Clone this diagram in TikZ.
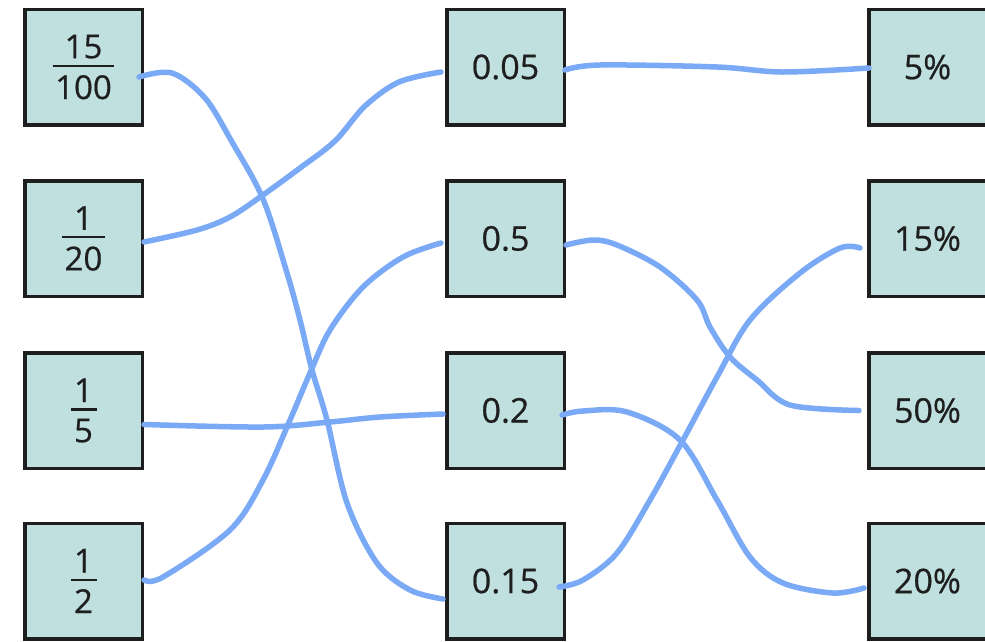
\documentclass[tikz,border=0pt]{standalone}
\usepackage{fontspec}
\setmainfont{Open Sans}[FakeBold=0.6]
\definecolor{boxfill}{HTML}{BFE0DF}
\definecolor{boxline}{HTML}{1E1E1E}
\definecolor{wire}{HTML}{7AA9F5}
\newcommand\frc[2]{%
  \setbox0\hbox{#1}\setbox2\hbox{#2}%
  \dimen0=\ifdim\wd0>\wd2 \wd0\else\wd2\fi
  \advance\dimen0 by 5pt
  \ifdim\dimen0<26pt \dimen0=26pt\fi
  \vbox{\hbox to\dimen0{\hfil\box0\hfil}\kern6pt\hrule height 2.6pt\kern8pt\hbox to\dimen0{\hfil\box2\hfil}}}
\tikzset{
  card/.style={draw=boxline, fill=boxfill, line width=3.5pt, minimum width=117.5pt, minimum height=115.5pt, inner sep=0pt, text=boxline, font=\fontsize{34}{40}\selectfont},
  fraccard/.style={card, font=\fontsize{33}{38}\selectfont},
  wire/.style={draw=wire, line width=5.5pt, line cap=round, line join=round}
}
\begin{document}
\begin{tikzpicture}[x=1pt,y=-1pt]
\useasboundingbox (0,0) rectangle (985,641);
\node[fraccard] (l1) at (83.5,67) {\frc{15}{100}};
\node[fraccard] (l2) at (83.5,238.5) {\frc{1}{20}};
\node[fraccard] (l3) at (83.5,410.5) {\frc{1}{5}};
\node[fraccard] (l4) at (83.5,581) {\frc{1}{2}};
\node[card] (m1) at (505.5,67) {0.05};
\node[card] (m2) at (505.5,238.5) {0.5};
\node[card] (m3) at (505.5,410.5) {0.2};
\node[card] (m4) at (505.5,581) {0.15};
\node[card] (r1) at (927.5,67) {5\%};
\node[card] (r2) at (927.5,238.5) {15\%};
\node[card] (r3) at (927.5,410.5) {50\%};
\node[card] (r4) at (927.5,581) {20\%};
% left to middle
\draw[wire] plot[smooth, tension=0.55] coordinates {([xshift=-5pt,yshift=-10pt]l1.east) (172,73) (205,98) (232,142) (263,199) (287,273) (300,320) (312,370) (327,420) (347,503) (377,563) (410,590) ([xshift=-2pt,yshift=-18pt]m4.west)};
\draw[wire] plot[smooth, tension=0.55] coordinates {([yshift=-3.5pt]l2.east) (197,230) (230,217) (263,195) (300,168) (335,141) (365,106) (399,82) ([xshift=-4pt,yshift=-5pt]m1.west)};
\draw[wire] plot[smooth, tension=0.55] coordinates {([yshift=-14pt]l3.east) (263,427) (330,422) (380,417) ([xshift=-2pt,yshift=-3.5pt]m3.west)};
\draw[wire] plot[smooth, tension=0.55] coordinates {([yshift=1pt]l4.east) (163,577) (230,530) (263,480) (290,420) (310,373) (330,330) (363,287) (403,257) ([xshift=-4pt,yshift=-4.5pt]m2.west)};
% middle to right
\draw[wire] plot[smooth, tension=0.55] coordinates {([xshift=-1pt,yshift=-3pt]m1.east) (600,65) (717,67) (783,72) ([xshift=2pt,yshift=-1pt]r1.west)};
\draw[wire] plot[smooth, tension=0.55] coordinates {([yshift=-6.5pt]m2.east) (593,240) (617,245) (660,267) (697,300) (710,327) (730,357) (757,380) (790,405) ([xshift=-8pt,yshift=0pt]r3.west)};
\draw[wire] plot[smooth, tension=0.55] coordinates {([xshift=-4pt,yshift=-4.5pt]m3.east) (583,411) (627,412) (680,440) (717,500) (750,557) (783,583) (833,593) ([xshift=-3pt,yshift=-7pt]r4.west)};
\draw[wire] plot[smooth, tension=0.55] coordinates {([xshift=-7pt,yshift=-6pt]m4.east) (583,580) (617,553) (650,500) (683,440) (717,377) (750,320) (800,273) (840,248) ([xshift=-7pt,yshift=-9.5pt]r2.west)};
\end{tikzpicture}
\end{document}
